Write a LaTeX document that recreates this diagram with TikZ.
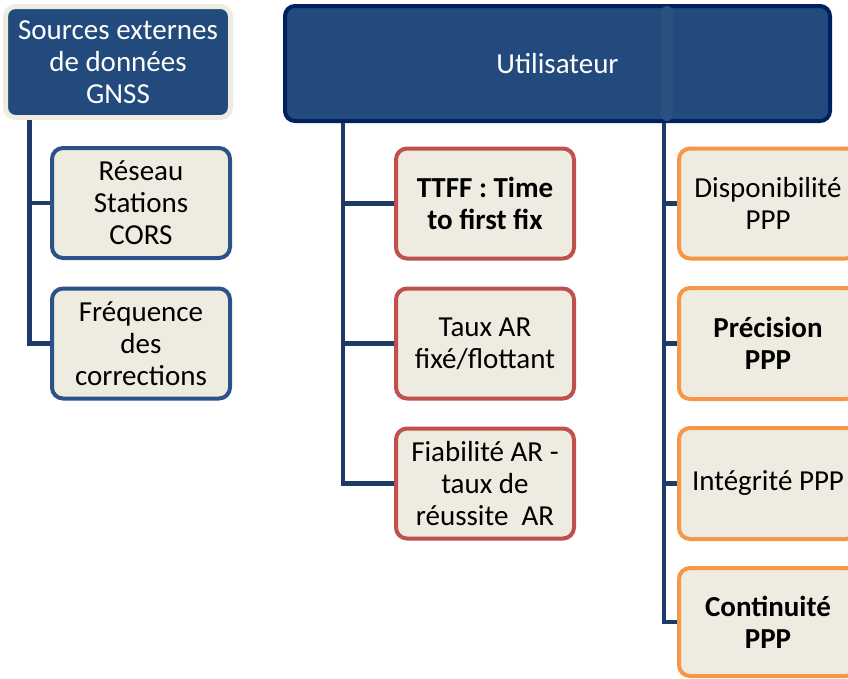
\documentclass[tikz,border=0pt]{standalone}
\usepackage{fontspec}
\setmainfont{Carlito}
\definecolor{navyfill}{HTML}{224A7C}
\definecolor{navyborder}{HTML}{00205F}
\definecolor{beige}{HTML}{EEECE1}
\definecolor{connc}{HTML}{1F3A68}
\definecolor{blueb}{HTML}{2B5289}
\definecolor{redb}{HTML}{C0504D}
\definecolor{orangeb}{HTML}{F79646}
\definecolor{stripc}{HTML}{28517F}
\tikzset{
  txt/.style={font=\fontsize{29}{32}\selectfont, align=center, inner sep=0pt},
  topbox/.style={txt, rounded corners=10pt, fill=navyfill, text=white},
  leafbox/.style={txt, rounded corners=11pt, fill=beige, line width=4pt, text=black,
    minimum width=178pt, minimum height=110pt},
  blueleaf/.style={leafbox, draw=blueb},
  redleaf/.style={leafbox, draw=redb},
  orangeleaf/.style={leafbox, draw=orangeb},
  conn/.style={draw=connc, line width=4.5pt}
}
\begin{document}
\begin{tikzpicture}[x=1pt,y=-1pt]
\useasboundingbox (0,0) rectangle (848,678);
\clip (0,0) rectangle (848,678);
% top boxes
\node[topbox, draw=beige, line width=5pt, minimum width=225pt, minimum height=111pt] (src) at (118,62) {Sources externes\\de données\\GNSS};
\node[topbox, draw=navyborder, line width=4pt, minimum width=545pt, minimum height=115pt] (usr) at (557.5,63.5) {Utilisateur};
\draw[stripc, line width=12pt, line cap=round] (667,12) -- (667,115);
% left column
\node[blueleaf] (res) at (141,203) {Réseau\\Stations\\CORS};
\node[blueleaf] (freq) at (141,343.5) {Fréquence\\des\\corrections};
% middle column
\node[redleaf] (ttff) at (485,203.5) {\textbf{TTFF : Time}\\\textbf{to first fix}};
\node[redleaf] (taux) at (485,343.5) {Taux AR\\fixé/flottant};
\node[redleaf] (fiab) at (485,483.5) {Fiabilité AR -\\taux de\\réussite\ \ AR};
% right column
\node[orangeleaf] (disp) at (768,203.5) {Disponibilité\\PPP};
\node[orangeleaf, minimum height=111pt] (prec) at (768,343.5) {\textbf{Précision}\\\textbf{PPP}};
\node[orangeleaf, minimum height=111pt] (integ) at (768,483.5) {Intégrité PPP};
\node[orangeleaf, minimum height=108pt] (cont) at (768,622) {\textbf{Continuité}\\\textbf{PPP}};
% connector roots
\coordinate (l0) at (29.5,0 |- src.south);
\coordinate (m0) at (343,0 |- usr.south);
\coordinate (r0) at (664,0 |- usr.south);
% connectors
\draw[conn] (l0) |- (res.west);
\draw[conn] (l0) |- (freq.west);
\draw[conn] (m0) |- (ttff.west);
\draw[conn] (m0) |- (taux.west);
\draw[conn] (m0) |- (fiab.west);
\draw[conn] (r0) |- (disp.west);
\draw[conn] (r0) |- (prec.west);
\draw[conn] (r0) |- (integ.west);
\draw[conn] (r0) |- (cont.west);
\end{tikzpicture}
\end{document}
